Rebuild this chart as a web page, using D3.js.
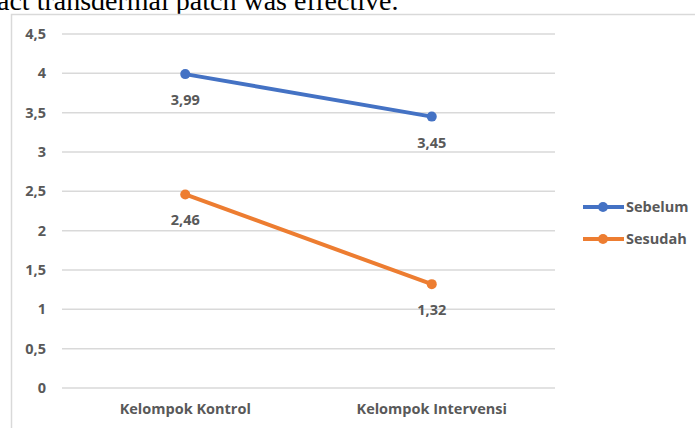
<!DOCTYPE html>
<html>
<head>
<meta charset="utf-8">
<script src="https://cdn.jsdelivr.net/npm/d3@7.9.0/dist/d3.min.js"></script>
<style>
  body { margin: 0; background: #fff; }
  svg { display: block; }
  .lbl { font-family: "Open Sans", sans-serif; font-weight: bold; fill: #595959; }
</style>
</head>
<body>
<svg id="chart" width="695" height="428"></svg>
<script>
// data
const categories = ['Kelompok Kontrol', 'Kelompok Intervensi'];
const seriesNames = ['Sebelum', 'Sesudah'];
const sebelum = [3.99, 3.45];
const sesudah = [2.46, 1.32];
const yTicks = [0, 0.5, 1, 1.5, 2, 2.5, 3, 3.5, 4, 4.5];
const colors = ['#4472C4', '#ED7D31'];

const series = [
    { name: seriesNames[0], values: sebelum, color: colors[0] },
    { name: seriesNames[1], values: sesudah, color: colors[1] }
];

const FS = 14.5;
const svg = d3.select('#chart');
const locale = d3.formatLocale({ decimal: ',', thousands: '.', grouping: [3], currency: ['', ''] });
const fmt = locale.format('');

// potongan teks dokumen di atas (terpotong seperti aslinya)
svg.append('text')
   .attr('x', -3).attr('y', 10)
   .attr('font-family', '"Liberation Serif", serif')
   .attr('font-size', 28)
   .attr('fill', '#000')
   .text('act transdermal patch was effective.');

// bingkai chart
svg.append('rect')
   .attr('x', 11.5).attr('y', 14.5)
   .attr('width', 700).attr('height', 430)
   .attr('fill', '#fff')
   .attr('stroke', '#d9d9d9')
   .attr('stroke-width', 1.5);

const x = d3.scaleBand().domain(categories).range([62, 555]);
const y = d3.scaleLinear().domain([0, 4.5]).range([388, 34]);

// grid
svg.append('g')
   .selectAll('line')
   .data(yTicks)
   .join('line')
   .attr('x1', 62).attr('x2', 555)
   .attr('y1', d => y(d)).attr('y2', d => y(d))
   .attr('stroke', '#d9d9d9')
   .attr('stroke-width', 1.5);

// y axis labels
const yAxis = svg.append('g')
   .attr('transform', 'translate(46,0)')
   .call(d3.axisLeft(y).tickValues(yTicks).tickFormat(fmt).tickSize(0).tickPadding(0));
yAxis.select('.domain').remove();
yAxis.selectAll('text')
     .attr('class', 'lbl')
     .attr('font-size', FS)
     .attr('font-family', null);

// x axis labels
const xAxis = svg.append('g')
   .attr('transform', 'translate(0,388)')
   .call(d3.axisBottom(x).tickSize(0).tickPadding(16));
xAxis.select('.domain').remove();
xAxis.selectAll('text')
     .attr('class', 'lbl')
     .attr('font-size', FS)
     .attr('font-family', null);

const cx = c => x(c) + x.bandwidth() / 2;
const line = d3.line().x((d, i) => cx(categories[i])).y(d => y(d));

// garis + titik + label nilai
series.forEach(s => {
    const g = svg.append('g');
    g.append('path')
     .attr('d', line(s.values))
     .attr('fill', 'none')
     .attr('stroke', s.color)
     .attr('stroke-width', 4)
     .attr('stroke-linecap', 'round');
    g.selectAll('circle')
     .data(s.values)
     .join('circle')
     .attr('cx', (d, i) => cx(categories[i]))
     .attr('cy', d => y(d))
     .attr('r', 5)
     .attr('fill', s.color);
    g.selectAll('text')
     .data(s.values)
     .join('text')
     .attr('class', 'lbl')
     .attr('font-size', FS)
     .attr('text-anchor', 'middle')
     .attr('x', (d, i) => cx(categories[i]))
     .attr('y', d => y(d) + 31)
     .text(d => fmt(d));
});

// legend
const legend = svg.append('g')
   .selectAll('g')
   .data(series)
   .join('g')
   .attr('transform', (d, i) => `translate(583,${207 + i * 32})`);
legend.append('line')
      .attr('x1', 0).attr('x2', 41)
      .attr('stroke', d => d.color)
      .attr('stroke-width', 4);
legend.append('circle')
      .attr('cx', 20).attr('r', 5)
      .attr('fill', d => d.color);
legend.append('text')
      .attr('class', 'lbl')
      .attr('font-size', FS)
      .attr('x', 43).attr('dy', '0.35em')
      .text(d => d.name);
</script>
</body>
</html>
